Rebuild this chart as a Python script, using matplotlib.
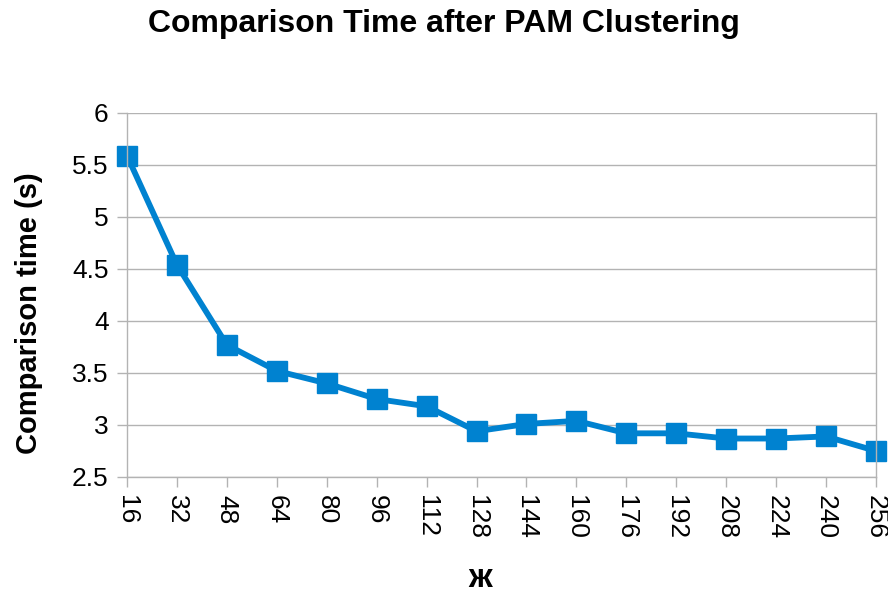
import matplotlib
matplotlib.use("Agg")
import matplotlib.pyplot as plt

# data
clusters = [16, 32, 48, 64, 80, 96, 112, 128, 144, 160, 176, 192, 208, 224, 240, 256]
comp_time = [5.59, 4.54, 3.77, 3.52, 3.40, 3.25, 3.18, 2.94, 3.01, 3.04, 2.92, 2.92, 2.87, 2.87, 2.89, 2.75]
y_ticks = [2.5, 3, 3.5, 4, 4.5, 5, 5.5, 6]

plt.rcParams['font.family'] = ['Liberation Sans', 'DejaVu Sans']

fig = plt.figure(figsize=(8.88, 5.92), dpi=100)
ax = fig.add_axes([127 / 888, 1 - 477 / 592, (876 - 127) / 888, (477 - 113) / 592])

ax.plot(clusters, comp_time, color='#0082D0', linewidth=4.2, clip_on=False,
        marker='s', markersize=14, markerfacecolor='#0082D0', markeredgecolor='#0082D0')

ax.set_xlim(16, 256)
ax.set_ylim(2.5, 6)
ax.set_xticks(clusters)
ax.set_xticklabels([str(c) for c in clusters], rotation=-90, fontsize=19)
ax.set_yticks(y_ticks)
ax.set_yticklabels([f"{v:g}" for v in y_ticks], fontsize=19)

ax.grid(axis='y', color='#b3b3b3', linewidth=1)
ax.set_axisbelow(True)
ax.spines['top'].set_visible(False)
for side in ['left', 'bottom', 'right']:
    ax.spines[side].set_color('#b3b3b3')
    ax.spines[side].set_linewidth(1)
ax.tick_params(axis='both', color='#b3b3b3', length=7.2, width=1, pad=6)

ax.set_ylabel("Comparison time (s)", fontsize=21, fontweight='bold')
ax.yaxis.set_label_coords(-0.112, 0.45)
ax.set_xlabel("ж", fontsize=24, fontweight='bold')
ax.xaxis.set_label_coords(0.471, -0.235)
fig.suptitle("Comparison Time after PAM Clustering", fontsize=23, fontweight='bold', y=0.985)

fig.savefig("out.png", dpi=100)
